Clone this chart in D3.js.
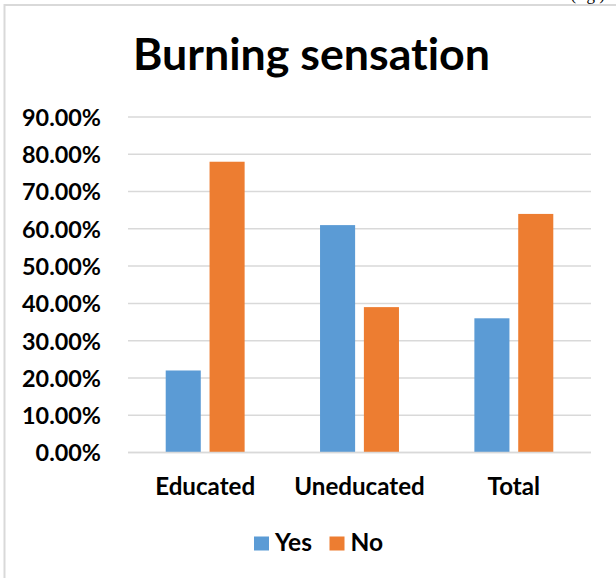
<!DOCTYPE html>
<html>
<head>
<meta charset="utf-8">
<script src="https://cdn.jsdelivr.net/npm/d3@7"></script>
<style>
  html, body { margin: 0; padding: 0; background: #fff; }
  svg { display: block; }
  text { font-family: Lato, "Open Sans", sans-serif; font-weight: bold; fill: #000;
         font-variant-ligatures: none; font-feature-settings: "liga" 0, "clig" 0; }
</style>
</head>
<body>
<script>
const categories = ["Educated", "Uneducated", "Total"];
const seriesNames = ["Yes", "No"];
const yesValues = [0.22, 0.61, 0.36];
const noValues = [0.78, 0.39, 0.64];
const yTicks = [0, 0.1, 0.2, 0.3, 0.4, 0.5, 0.6, 0.7, 0.8, 0.9];
const titleText = "Burning sensation";
const colors = ["#5B9BD5", "#ED7D31"];

const W = 616, H = 578;
const svg = d3.select("body").append("svg").attr("width", W).attr("height", H);

// helper: font size that gives a target width
function fitSize(str, target) {
  const t = svg.append("text").attr("font-size", 100).text(str);
  const w = t.node().getComputedTextLength();
  t.remove();
  return 100 * target / w;
}

// frame
svg.append("line").attr("x1", 4.5).attr("x2", 4.5).attr("y1", 4).attr("y2", H)
  .attr("stroke", "#d9d9d9").attr("stroke-width", 2);
svg.append("line").attr("x1", 4).attr("x2", W).attr("y1", 5).attr("y2", 5)
  .attr("stroke", "#d9d9d9").attr("stroke-width", 2);
// caption above the frame, clipped at the page top as in the source
svg.append("text").attr("x", 605).attr("y", 0).attr("text-anchor", "end")
  .style("font-family", "'Liberation Serif', serif").style("font-weight", "normal")
  .attr("font-size", 17).text("(fig.)");

const x = d3.scaleBand().domain(categories).range([128, 591]).paddingInner(0).paddingOuter(0);
const xs = d3.scaleBand().domain(seriesNames).range([0, x.bandwidth()]).paddingInner(0.2).paddingOuter(0.86);
const y = d3.scaleLinear().domain([0, 0.9]).range([452.5, 117]);

// gridlines
svg.append("g").selectAll("line").data(yTicks).join("line")
  .attr("x1", 128).attr("x2", 591)
  .attr("y1", d => y(d)).attr("y2", d => y(d))
  .attr("stroke", "#d9d9d9").attr("stroke-width", 1.5);

// y axis labels
const tickSize = fitSize("90.00%", 79);
const yAxis = d3.axisLeft(y).tickValues(yTicks).tickFormat(d3.format(".2%")).tickSize(0).tickPadding(0);
const gy = svg.append("g").attr("transform", "translate(101,0)").call(yAxis);
gy.select(".domain").remove();
gy.selectAll("text").attr("font-size", tickSize).attr("dy", "0.36em")
  .style("font-family", "Lato, 'Open Sans', sans-serif").style("font-weight", "bold").attr("fill", "#000");

// bars
const data = categories.map((c, i) => ({ cat: c, vals: [yesValues[i], noValues[i]] }));
const groups = svg.append("g").selectAll("g").data(data).join("g")
  .attr("transform", d => `translate(${x(d.cat)},0)`);
groups.selectAll("rect").data(d => d.vals.map((v, j) => ({ s: seriesNames[j], v, j })))
  .join("rect")
  .attr("x", d => xs(d.s)).attr("width", xs.bandwidth())
  .attr("y", d => y(d.v)).attr("height", d => y(0) - y(d.v))
  .attr("fill", d => colors[d.j]);

// baseline
svg.append("line").attr("x1", 128).attr("x2", 591).attr("y1", y(0)).attr("y2", y(0))
  .attr("stroke", "#d9d9d9").attr("stroke-width", 1.5);

// x axis labels
const catSize = fitSize("Educated", 100);
const xAxis = d3.axisBottom(x).tickSize(0).tickPadding(0);
const gx = svg.append("g").attr("transform", "translate(0,495)").call(xAxis);
gx.select(".domain").remove();
gx.selectAll("text").attr("font-size", catSize).attr("dy", 0)
  .style("font-family", "Lato, 'Open Sans', sans-serif").style("font-weight", "bold").attr("fill", "#000");

// title
const titleSize = fitSize(titleText, 357);
svg.append("text").attr("x", 311.5).attr("y", 70).attr("text-anchor", "middle")
  .attr("font-size", titleSize).text(titleText);

// legend
const legSize = fitSize("Yes", 37);
const legX = [254, 329.5];
const leg = svg.append("g").selectAll("g").data(seriesNames).join("g")
  .attr("transform", (d, i) => `translate(${legX[i]},0)`);
leg.append("rect").attr("x", 0).attr("y", 536.5).attr("width", 15).attr("height", 14)
  .attr("fill", (d, i) => colors[i]);
leg.append("text").attr("x", 21).attr("y", 550.5).attr("font-size", legSize).text(d => d);
</script>
</body>
</html>
